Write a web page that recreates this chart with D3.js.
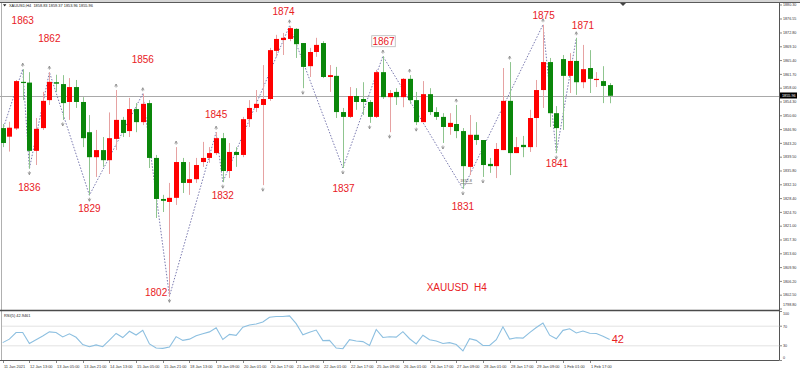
<!DOCTYPE html>
<html><head><meta charset="utf-8">
<script src="https://d3js.org/d3.v7.min.js"></script>
<style>
body{margin:0;background:#fff;}
svg{display:block;}
text{font-family:"Liberation Sans",Arial,sans-serif;}
</style>
</head><body>
<script>
// ---- data (XAUUSD H4) ----
const opens  = [1847.3,1845.0,1847.2,1859.7,1859.5,1841.2,1847.3,1854.8,1859.6,1859.1,1854.3,1858.3,1854.3,1846.2,1839.5,1841.4,1838.7,1844.4,1849.5,1846.5,1852.4,1848.9,1854.0,1839.3,1828.3,1827.5,1828.6,1838.2,1832.6,1833.6,1838.2,1839.3,1840.6,1844.6,1835.8,1840.9,1840.1,1849.7,1852.7,1853.5,1855.1,1868.0,1870.9,1871.2,1873.9,1870.1,1863.9,1867.7,1870.1,1861.0,1861.3,1851.6,1850.3,1855.9,1855.1,1854.3,1850.3,1862.3,1855.6,1857.0,1855.6,1860.5,1854.8,1848.9,1856.4,1851.6,1850.3,1847.6,1848.4,1846.5,1836.9,1845.5,1844.1,1837.7,1837.1,1841.4,1854.6,1840.6,1842.8,1842.2,1850.0,1857.5,1865.0,1851.3,1865.8,1861.3,1865.3,1859.6,1863.4,1860.2,1859.9,1858.83];
const highs  = [1848.4,1849.0,1860.2,1863.1,1862.3,1850.0,1857.0,1862.3,1861.6,1861.5,1860.7,1860.2,1855.6,1850.8,1846.8,1844.9,1851.5,1857.5,1850.3,1855.4,1854.0,1856.5,1854.8,1840.1,1829.4,1832.6,1842.2,1839.3,1838.2,1839.3,1843.6,1842.2,1846.2,1846.0,1843.3,1842.2,1850.3,1854.8,1857.5,1864.2,1868.8,1872.3,1872.8,1874.7,1874.1,1870.1,1868.8,1871.5,1870.6,1864.2,1863.7,1852.7,1858.3,1858.0,1859.6,1854.8,1862.9,1866.6,1857.5,1858.0,1860.7,1861.5,1857.0,1859.9,1858.0,1852.9,1851.3,1851.3,1853.5,1847.3,1850.8,1848.9,1844.1,1839.3,1843.3,1863.4,1865.0,1844.9,1845.2,1852.2,1860.2,1875.0,1866.1,1853.2,1866.9,1867.4,1871.5,1869.6,1868.2,1862.3,1863.9,1859.37];
const lows   = [1842.2,1841.0,1846.8,1854.8,1836.4,1837.4,1846.8,1853.5,1857.0,1849.5,1849.5,1852.7,1842.2,1829.3,1834.2,1836.9,1835.0,1841.4,1844.9,1844.9,1846.2,1848.1,1836.6,1823.2,1824.8,1802.2,1826.7,1829.9,1829.4,1832.6,1836.9,1838.0,1840.1,1832.8,1833.9,1836.9,1839.5,1847.6,1851.6,1832.0,1854.6,1866.4,1866.9,1870.6,1866.1,1858.0,1861.0,1866.4,1860.7,1857.0,1850.0,1836.6,1850.0,1852.2,1850.8,1848.7,1850.0,1855.1,1846.2,1853.5,1852.9,1853.8,1848.1,1848.9,1850.8,1849.5,1843.3,1845.5,1844.6,1831.0,1834.7,1842.8,1834.2,1835.3,1833.9,1841.4,1834.7,1840.6,1839.5,1840.9,1842.2,1852.7,1847.6,1840.6,1846.8,1856.7,1856.2,1858.0,1856.7,1858.3,1854.0,1853.96];
const closes = [1843.3,1847.4,1859.9,1859.5,1841.2,1847.1,1854.6,1859.7,1859.2,1854.0,1858.3,1854.3,1844.6,1839.5,1841.4,1838.7,1844.6,1849.5,1846.0,1852.4,1848.9,1853.8,1839.3,1828.3,1827.8,1828.6,1838.2,1832.6,1833.6,1837.4,1839.3,1840.6,1844.6,1835.8,1840.9,1840.1,1849.7,1852.7,1853.8,1855.1,1868.2,1871.2,1871.5,1874.1,1869.8,1863.7,1867.7,1869.6,1861.0,1861.5,1851.6,1850.3,1855.9,1854.3,1854.3,1850.3,1862.3,1855.6,1856.7,1855.6,1860.5,1854.8,1848.9,1856.4,1851.6,1850.3,1847.6,1848.7,1846.5,1837.1,1845.5,1844.1,1837.4,1837.1,1841.7,1854.6,1840.6,1842.2,1842.2,1850.0,1857.5,1865.0,1851.3,1847.3,1861.3,1865.3,1859.6,1863.1,1860.5,1860.5,1858.6,1855.96];
const rsiValues = [36.5,43.6,57.1,57.1,34.5,42.3,50.0,58.4,57.1,48.1,54.5,47.4,32.6,28.1,31.9,28.1,41.6,55.2,46.8,59.7,51.9,61.6,33.9,25.5,24.8,27.4,48.7,41.0,43.6,50.7,54.5,58.4,66.8,42.9,53.2,51.3,68.1,72.6,74.5,78.5,88.4,89.7,89.7,91.0,75.2,52.3,57.5,62.1,40.5,41.1,25.4,24.1,42.4,39.8,38.5,30.6,63.4,47.0,48.4,47.7,58.8,44.4,33.9,51.6,42.4,39.8,34.6,36.5,32.6,19.5,44.4,41.1,30.6,30.6,42.4,68.7,43.8,46.4,45.7,56.9,67.4,76.6,51.6,44.4,61.5,64.8,56.3,60.2,55.6,55.0,49.7,42.9461];
const timeLabels = ["11 Jan 2021","12 Jan 13:00","13 Jan 05:00","13 Jan 21:00","14 Jan 13:00","15 Jan 05:00","15 Jan 21:00","18 Jan 13:00","19 Jan 09:00","20 Jan 01:00","20 Jan 17:00","21 Jan 09:00","22 Jan 01:00","22 Jan 17:00","25 Jan 09:00","26 Jan 01:00","26 Jan 17:00","27 Jan 09:00","28 Jan 01:00","28 Jan 17:00","29 Jan 09:00","1 Feb 01:00","1 Feb 17:00"];
const priceTicks = [1880.30,1876.55,1872.80,1869.10,1865.40,1861.70,1858.00,1854.30,1850.60,1846.90,1843.20,1839.50,1835.80,1832.10,1828.40,1824.70,1821.00,1817.30,1813.60,1809.90,1806.20,1802.50,1798.80];
const rsiTicks = [100,70,30,0];
const zigzagBars   = [0,3,4,7,13,21,25,32,33,43,51,57,69,81,83,86];
const zigzagPrices = [1846.8,1863.1,1836.4,1862.3,1829.3,1856.5,1802.2,1846.2,1832.8,1874.7,1836.6,1866.6,1831.0,1875.0,1840.6,1871.5];
const upFractals   = [3,7,17,21,26,32,43,57,61,68,76,81,86];
const downFractals = [4,9,13,25,33,39,45,51,55,58,62,66,69,72,83];
const pivotTexts  = ["1863","1862","1856","1845","1874","1867","1836","1829","1802","1832","1837","1831","1875","1871","1841"];
const pivotBars   = [3.0,7.0,21.0,32.0,42.1,57.1,4.0,13.0,23.0,33.0,51.1,69.0,81.1,87.0,83.1];
const pivotPrices = [1875.2,1870.5,1864.7,1849.9,1877.7,1869.6,1830.4,1824.7,1802.3,1828.2,1830.1,1825.3,1876.6,1873.8,1837.0];
const lastPrice = 1855.96;
const headerText = "XAUUSD,H4  1858.83 1859.37 1853.96 1855.96";
const rsiTitle = "RSI(5) 42.9461";

// ---- drawing ----
const W = 800, H = 371;
const svg = d3.select("body").append("svg").attr("width", W).attr("height", H);
const axisX = 779.5;
const x = d3.scaleLinear().domain([0, 91]).range([2.7, 2.7 + 91 * 6.67]);
const y = d3.scaleLinear().domain([1798.8, 1880.3]).range([309, 5]);
const ry = d3.scaleLinear().domain([0, 100]).range([360.5, 311.5]);

const RED = "#ff0000", GREEN = "#0a870a", TXT = "#e8201e";

// window frame
svg.append("rect").attr("x",0).attr("y",0).attr("width",W).attr("height",2).attr("fill","#d6d6d6");
svg.append("line").attr("x1",0).attr("x2",W).attr("y1",2.5).attr("y2",2.5).attr("stroke","#5a5a5a");
svg.append("line").attr("x1",1.5).attr("x2",1.5).attr("y1",3).attr("y2",360).attr("stroke","#b0b0b0");
svg.append("path").attr("d", `M${x(93)-3},3 L${x(93)+3},3 L${x(93)},6 Z`).attr("fill","#444");

// current price line
svg.append("line").attr("x1",0).attr("x2",axisX).attr("y1",Math.round(y(lastPrice))+0.5).attr("y2",Math.round(y(lastPrice))+0.5)
  .attr("stroke","#a9a9a9");

// zigzag
const zz = zigzagBars.map((b,i)=>[x(b), y(zigzagPrices[i])]);
svg.append("path").attr("d", d3.line()(zz)).attr("fill","none")
  .attr("stroke","#6a6aa6").attr("stroke-width",0.9).attr("stroke-dasharray","1.5,1.6");

// fractal markers
const fr = svg.append("g").attr("stroke","#8a8a8a").attr("fill","none").attr("stroke-width",0.8);
upFractals.forEach(i=>{
  const cx = x(i), cy = y(highs[i]) - 5;
  fr.append("path").attr("d",`M${cx-1.3},${cy+1.5} L${cx},${cy-1} L${cx+1.3},${cy+1.5} M${cx},${cy-1} L${cx},${cy+2.5}`);
});
downFractals.forEach(i=>{
  const cx = x(i), cy = y(lows[i]) + 5;
  fr.append("path").attr("d",`M${cx-1.3},${cy-1.5} L${cx},${cy+1} L${cx+1.3},${cy-1.5} M${cx},${cy+1} L${cx},${cy-2.5}`);
});

// candles
const cg = svg.append("g");
opens.forEach((o,i)=>{
  const c = closes[i], up = c >= o;
  const cx = Math.round(x(i)) + 0.5;
  cg.append("line").attr("x1",cx).attr("x2",cx).attr("y1",y(highs[i])).attr("y2",y(lows[i]))
    .attr("stroke", up ? "#e6a2a2" : "#8fc58f").attr("stroke-width",1);
  const top = y(Math.max(o,c)), bot = y(Math.min(o,c));
  cg.append("rect").attr("x",cx-2.5).attr("y",top).attr("width",5).attr("height",Math.max(1.2,bot-top))
    .attr("fill", up ? RED : GREEN);
});

// small horizontal-line label near 1831 low
svg.append("text").attr("x",x(68.6)).attr("y",y(1832.9)).attr("font-size",3.8).attr("fill","#555").text("1832.8");
svg.append("line").attr("x1",x(68.6)).attr("x2",x(70.4)).attr("y1",y(1832.7)+1).attr("y2",y(1832.7)+1).attr("stroke","#777").attr("stroke-width",0.6);

// pivot labels
pivotTexts.forEach((t,i)=>{
  const tx = x(pivotBars[i]), ty = y(pivotPrices[i]);
  if (t === "1867") {
    svg.append("rect").attr("x",tx-11.8).attr("y",ty-9.2).attr("width",23.5).attr("height",11)
      .attr("fill","#fff").attr("stroke","#b8b8b8").attr("stroke-width",0.8);
  }
  svg.append("text").attr("x",tx).attr("y",ty).attr("text-anchor","middle")
    .attr("font-size",10).attr("fill",TXT).text(t);
});
svg.append("text").attr("x",x(63.57)).attr("y",y(1803.7)).attr("font-size",10).attr("fill",TXT)
  .style("white-space","pre").text("XAUUSD  H4");

// header
svg.append("path").attr("d","M3,4.3 L6.4,4.3 L4.7,6.4 Z").attr("fill","#222");
svg.append("text").attr("x",9).attr("y",7).attr("font-size",3.9).attr("fill","#222")
  .style("white-space","pre").text(headerText);

// price axis
svg.append("line").attr("x1",axisX).attr("x2",axisX).attr("y1",3).attr("y2",360).attr("stroke","#555");
const pa = svg.append("g");
priceTicks.forEach(p=>{
  const ty = y(p);
  pa.append("line").attr("x1",axisX).attr("x2",axisX+2.5).attr("y1",ty).attr("y2",ty).attr("stroke","#555").attr("stroke-width",0.7);
  pa.append("text").attr("x",783).attr("y",ty+ (p===1798.8 ? -3.5 : 1.3)).attr("font-size",3.7).attr("fill","#333")
    .text(p.toFixed(2));
});
svg.append("rect").attr("x",780).attr("y",y(lastPrice)-3.3).attr("width",17).attr("height",6).attr("fill","#000");
svg.append("text").attr("x",782).attr("y",y(lastPrice)+1.4).attr("font-size",3.8).attr("fill","#fff").text(lastPrice.toFixed(2));

// panel separator
svg.append("line").attr("x1",0).attr("x2",axisX).attr("y1",310.5).attr("y2",310.5).attr("stroke","#4a4a4a").attr("stroke-width",1.6);

// RSI panel
[70,30].forEach(v=>{
  svg.append("line").attr("x1",2).attr("x2",axisX).attr("y1",ry(v)).attr("y2",ry(v)).attr("stroke","#dadada").attr("stroke-width",0.8);
});
svg.append("path").attr("d", d3.line().x((d,i)=>x(i)).y(d=>ry(d))(rsiValues))
  .attr("fill","none").attr("stroke","#8cbfe0").attr("stroke-width",1.1);
svg.append("text").attr("x",4).attr("y",316.5).attr("font-size",3.9).attr("fill","#222").text(rsiTitle);
rsiTicks.forEach(v=>{
  const ty = ry(v);
  svg.append("line").attr("x1",axisX).attr("x2",axisX+2.5).attr("y1",ty).attr("y2",ty).attr("stroke","#555").attr("stroke-width",0.7);
  svg.append("text").attr("x",783).attr("y", v===100 ? ty+3.5 : (v===0 ? ty-1.5 : ty+1.3)).attr("font-size",3.7).attr("fill","#333").text(v);
});
const last = rsiValues.length - 1;
svg.append("text").attr("x",x(last)+2).attr("y",ry(rsiValues[last])+3.6).attr("font-size",11).attr("fill",TXT)
  .text(Math.floor(rsiValues[last]));

// time axis
svg.append("line").attr("x1",0).attr("x2",axisX).attr("y1",360.5).attr("y2",360.5).attr("stroke","#555");
timeLabels.forEach((t,k)=>{
  const tx = Math.round(x(k*4)) + 0.5;
  svg.append("line").attr("x1",tx).attr("x2",tx).attr("y1",360.5).attr("y2",363).attr("stroke","#555").attr("stroke-width",0.7);
  svg.append("text").attr("x",tx+0.5).attr("y",367.5).attr("font-size",3.9).attr("fill","#333").text(t);
});
</script>
</body></html>
